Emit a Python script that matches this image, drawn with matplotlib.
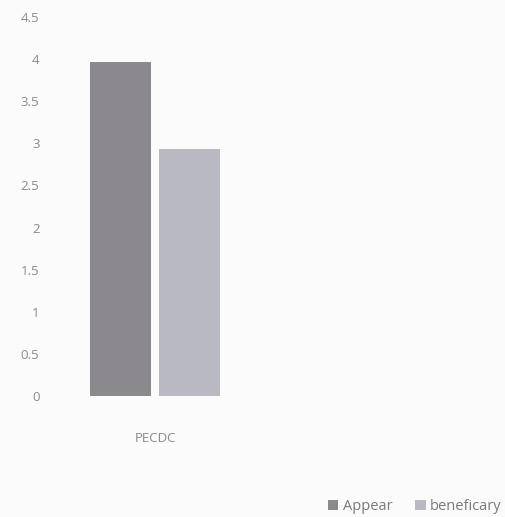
import matplotlib
matplotlib.use("Agg")
import matplotlib.pyplot as plt
import numpy as np

categories = ["PECDC"]
series_names = ["Appear", "beneficary"]
appear = [3.97]
beneficary = [2.93]
yticks = [0, 0.5, 1, 1.5, 2, 2.5, 3, 3.5, 4, 4.5]
ytick_labels = ["0", "0.5", "1", "1.5", "2", "2.5", "3", "3.5", "4", "4.5"]

plt.rcParams['font.family'] = ['Open Sans', 'DejaVu Sans']
W, H = 505, 517
fig = plt.figure(figsize=(W / 100, H / 100), dpi=100)
fig.patch.set_facecolor("#fbfbfb")

left, right, bottom, top = 45, 265, 396, 17
ax = fig.add_axes([left / W, 1 - bottom / H, (right - left) / W, (bottom - top) / H])
ax.set_facecolor("none")

x = np.arange(len(categories))
bw = 0.28
gap = 0.016
c1, c2 = "#8b898e", "#b9b9c1"
ax.bar(x - bw / 2 - gap, appear, width=bw, color=c1, label=series_names[0])
ax.bar(x + bw / 2 + gap, beneficary, width=bw, color=c2, label=series_names[1])

ax.set_xlim(-0.5, 0.5)
ax.set_ylim(0, 4.5)
ax.set_yticks(yticks)
ax.set_yticklabels(ytick_labels)
ax.set_xticks(x)
ax.set_xticklabels(categories)
for s in ax.spines.values():
    s.set_visible(False)
ax.tick_params(axis="both", length=0, colors="#8a8a8a", labelsize=9.5)
ax.tick_params(axis="y", pad=4)
ax.tick_params(axis="x", pad=26)

leg = fig.legend(loc="lower right", bbox_to_anchor=(1.005, -0.005), ncol=2, frameon=False,
                 fontsize=10.5, handlelength=0.7, handleheight=0.7, handletextpad=0.3,
                 columnspacing=1.6, borderaxespad=0.0)
for t in leg.get_texts():
    t.set_color("#7a7a7a")

fig.savefig("out.png", dpi=100, facecolor=fig.get_facecolor())
